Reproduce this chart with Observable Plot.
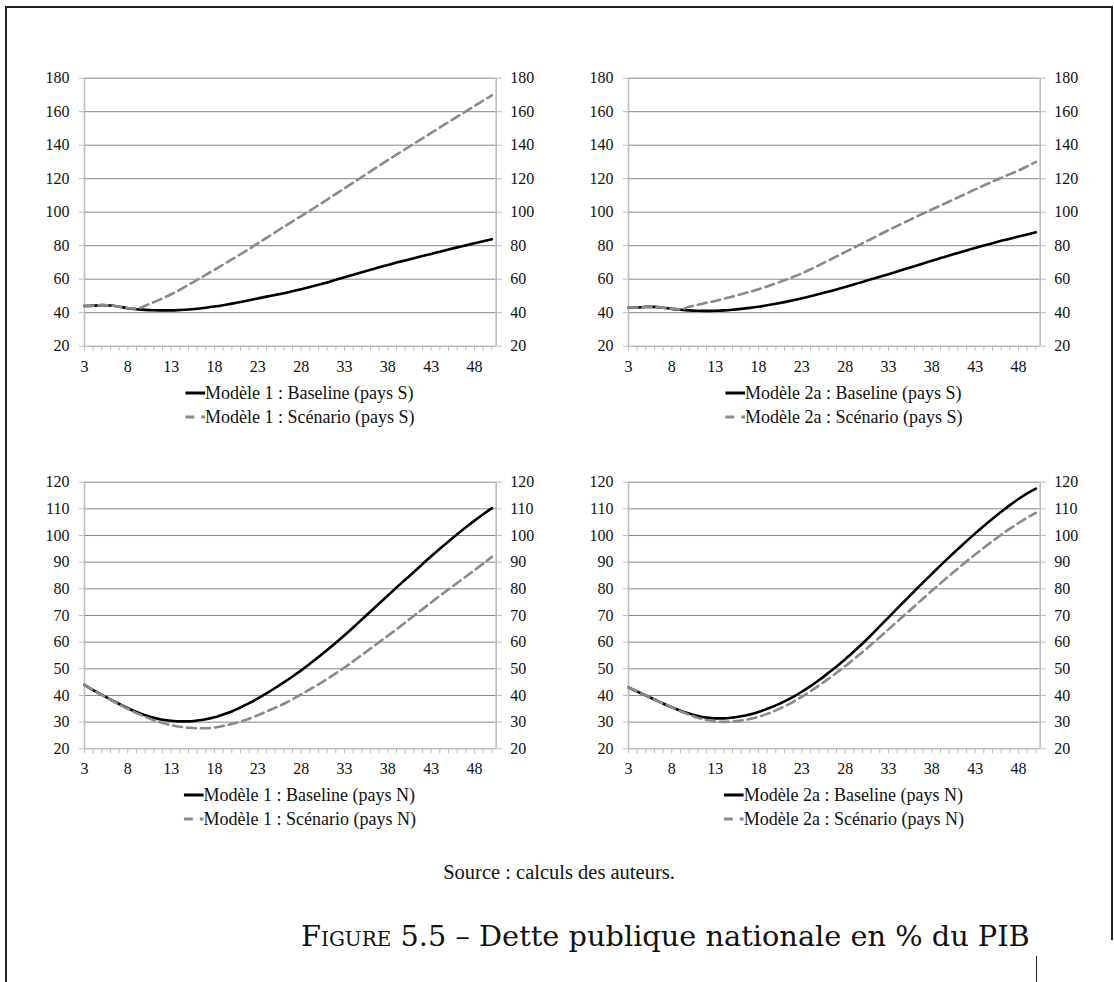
<!DOCTYPE html>
<html>
<head>
<meta charset="utf-8">
<script src="https://cdn.jsdelivr.net/npm/d3@7"></script>
<script src="https://cdn.jsdelivr.net/npm/@observablehq/plot@0.6"></script>
<style>
  body { margin: 0; background: #fff; }
  #page { position: relative; width: 1114px; height: 982px; background: #fff; overflow: hidden; font-family: "Liberation Serif", "Times New Roman", serif; color: #111; }
  .abs { position: absolute; }
  .legend { position: absolute; font-size: 18px; line-height: 24px; white-space: nowrap; transform: translateX(-50%); }
  .legend .row { display: flex; align-items: center; height: 24px; }
  .legend svg { display: block; }
</style>
</head>
<body>
<div id="page"></div>
<script>
// Periods (x categories)
const periods = [3,4,5,6,7,8,9,10,11,12,13,14,15,16,17,18,19,20,21,22,23,24,25,26,27,28,29,30,31,32,33,34,35,36,37,38,39,40,41,42,43,44,45,46,47,48,49,50];
const xTickLabels = [3,8,13,18,23,28,33,38,43,48];
const yTicksS = [20,40,60,80,100,120,140,160,180];
const yTicksN = [20,30,40,50,60,70,80,90,100,110,120];

// Modèle 1, pays S
const m1S_base = [44.0,44.2,44.5,44.3,43.6,42.7,42.1,41.7,41.5,41.4,41.4,41.6,41.9,42.4,43.0,43.7,44.5,45.4,46.4,47.4,48.5,49.6,50.6,51.6,52.8,54.0,55.3,56.7,58.1,59.6,61.1,62.6,64.1,65.6,67.1,68.5,69.9,71.2,72.5,73.8,75.1,76.4,77.7,79.0,80.2,81.4,82.6,83.8];
const m1S_scen = [44.0,44.2,44.5,44.3,43.6,42.7,42.4,44.2,46.3,48.6,51.0,53.7,56.6,59.6,62.6,65.6,68.7,71.8,74.9,78.1,81.4,84.7,88.0,91.3,94.5,97.7,100.9,104.2,107.5,110.9,114.3,117.6,121.0,124.4,127.8,131.1,134.4,137.6,140.9,144.1,147.3,150.6,153.8,157.0,160.2,163.4,166.6,169.8];
// Modèle 2a, pays S
const m2aS_base = [43.0,43.1,43.5,43.5,43.0,42.3,41.8,41.4,41.2,41.1,41.2,41.4,41.8,42.3,42.9,43.6,44.4,45.3,46.3,47.4,48.6,49.8,51.1,52.5,53.9,55.4,56.9,58.4,59.9,61.5,63.0,64.6,66.2,67.8,69.4,71.0,72.6,74.2,75.7,77.2,78.7,80.1,81.5,82.9,84.2,85.5,86.7,88.0];
const m2aS_scen = [43.0,43.1,43.5,43.5,43.0,42.3,42.0,43.5,44.8,45.9,47.0,48.3,49.6,51.0,52.5,54.0,55.7,57.5,59.4,61.4,63.5,65.9,68.4,71.0,73.6,76.2,78.8,81.4,84.0,86.7,89.3,91.8,94.3,96.8,99.2,101.6,104.0,106.4,108.8,111.2,113.6,116.0,118.3,120.5,122.7,124.9,127.4,130.0];
// Modèle 1, pays N
const m1N_base = [44.0,42.0,40.2,38.5,36.8,35.2,33.8,32.6,31.6,30.9,30.5,30.3,30.3,30.6,31.1,31.8,32.9,34.0,35.5,37.1,38.9,40.8,42.8,44.9,47.1,49.4,51.9,54.4,57.1,59.8,62.6,65.5,68.5,71.5,74.5,77.5,80.5,83.4,86.3,89.3,92.2,95.0,97.8,100.5,103.1,105.6,108.0,110.3];
const m1N_scen = [44.0,42.0,40.2,38.5,36.7,35.0,33.4,32.0,30.7,29.7,28.9,28.3,27.9,27.7,27.7,28.0,28.6,29.3,30.2,31.3,32.6,34.0,35.4,36.9,38.6,40.4,42.3,44.2,46.2,48.3,50.5,52.8,55.2,57.6,60.0,62.4,64.8,67.4,69.9,72.4,74.9,77.4,79.8,82.2,84.6,87.0,89.5,92.0];
// Modèle 2a, pays N
const m2aN_base = [43.0,41.5,40.0,38.5,37.0,35.6,34.3,33.2,32.3,31.7,31.4,31.4,31.7,32.2,32.9,33.8,35.0,36.3,37.8,39.5,41.4,43.5,45.8,48.3,50.9,53.6,56.5,59.5,62.7,66.0,69.3,72.6,75.9,79.2,82.4,85.6,88.8,91.9,94.9,97.9,100.8,103.6,106.3,108.9,111.4,113.7,115.8,117.6];
const m2aN_scen = [43.0,41.5,40.0,38.5,37.0,35.6,34.1,32.8,31.6,30.8,30.3,30.1,30.2,30.6,31.2,32.0,33.1,34.4,35.9,37.6,39.5,41.6,43.8,46.1,48.5,51.0,53.6,56.3,59.1,61.9,64.8,67.7,70.6,73.5,76.4,79.3,82.1,84.9,87.6,90.3,92.9,95.4,97.9,100.3,102.6,104.7,106.7,108.5];

const W = 556, H = 320, ML = 84, MR = 60.3;
const panels = [
  {base: m1S_base, scen: m1S_scen, yTicks: yTicksS, left: 0, top: 60, mt: 17.7, mb: 34.3, legTop: 381,
   names: ["Modèle 1 : Baseline (pays S)", "Modèle 1 : Scénario (pays S)"]},
  {base: m2aS_base, scen: m2aS_scen, yTicks: yTicksS, left: 544, top: 60, mt: 17.7, mb: 34.3, legTop: 381,
   names: ["Modèle 2a : Baseline (pays S)", "Modèle 2a : Scénario (pays S)"]},
  {base: m1N_base, scen: m1N_scen, yTicks: yTicksN, left: 0, top: 460, mt: 21.7, mb: 31.7, legTop: 783,
   names: ["Modèle 1 : Baseline (pays N)", "Modèle 1 : Scénario (pays N)"]},
  {base: m2aN_base, scen: m2aN_scen, yTicks: yTicksN, left: 544, top: 460, mt: 21.7, mb: 31.7, legTop: 783,
   names: ["Modèle 2a : Baseline (pays N)", "Modèle 2a : Scénario (pays N)"]}
];

const page = document.getElementById("page");

function addBar(x, y, w, h) {
  const d = document.createElement("div");
  d.className = "abs";
  Object.assign(d.style, {left: x + "px", top: y + "px", width: w + "px", height: h + "px", background: "#222"});
  page.appendChild(d);
}
addBar(5, 6, 1.6, 976);      // left border
addBar(5, 6, 1108, 1.6);     // top border
addBar(1111.4, 6, 1.6, 934); // right border
addBar(1035.5, 956, 1.4, 26); // small bar at bottom right

const AXIS = "#bdbdbd", GRID = "#878787";

for (const p of panels) {
  const yMin = p.yTicks[0], yMax = p.yTicks[p.yTicks.length - 1];
  const rows = periods.map((x, i) => ({x, base: p.base[i], scen: p.scen[i]}));
  const chart = Plot.plot({
    width: W, height: H,
    marginLeft: ML, marginRight: MR, marginTop: p.mt, marginBottom: p.mb,
    style: {fontFamily: "'Liberation Serif', 'Times New Roman', serif", fontSize: "16px", color: "#111", background: "transparent", overflow: "visible"},
    x: {domain: [3, 50.5]},
    y: {domain: [yMin, yMax]},
    marks: [
      Plot.gridY(p.yTicks.filter(d => d !== yMin), {stroke: GRID, strokeOpacity: 1, strokeWidth: 1}),
      Plot.ruleY([yMin], {stroke: AXIS, strokeWidth: 1.6}),
      Plot.ruleX([3, 50.5], {stroke: AXIS, strokeWidth: 1.6}),
      Plot.axisY({anchor: "left", ticks: p.yTicks, tickSize: 5, tickPadding: 10, stroke: AXIS, fill: "#111", label: null}),
      Plot.axisY({anchor: "right", ticks: p.yTicks, tickSize: 5, tickPadding: 9, stroke: AXIS, fill: "#111", label: null}),
      Plot.axisX({anchor: "bottom", ticks: periods, tickSize: 5, tickFormat: () => "", stroke: AXIS, label: null}),
      Plot.axisX({anchor: "bottom", ticks: xTickLabels, tickSize: 0, tickPadding: 14, fill: "#111", label: null}),
      Plot.line(rows, {x: "x", y: "base", stroke: "#000", strokeWidth: 2.6, curve: "monotone-x"}),
      Plot.line(rows, {x: "x", y: "scen", stroke: "#8a8a8a", strokeWidth: 2.6, strokeDasharray: "9,5", curve: "monotone-x"})
    ]
  });
  chart.style.position = "absolute";
  chart.style.left = p.left + "px";
  chart.style.top = p.top + "px";
  page.appendChild(chart);

  const leg = document.createElement("div");
  leg.className = "legend";
  leg.style.left = (p.left + (ML + (W - MR)) / 2 + 10) + "px";
  leg.style.top = p.legTop + "px";
  const swatch = (stroke, dash) =>
    `<svg width="20" height="10"><line x1="0" x2="20" y1="5" y2="5" stroke="${stroke}" stroke-width="3" ${dash ? `stroke-dasharray="${dash}"` : ""}/></svg>`;
  leg.innerHTML =
    `<div class="row">${swatch("#000", null)}<span>${p.names[0]}</span></div>` +
    `<div class="row">${swatch("#8a8a8a", "9,7")}<span>${p.names[1]}</span></div>`;
  page.appendChild(leg);
}

const src = document.createElement("div");
src.className = "abs";
Object.assign(src.style, {left: "0px", width: "1118px", top: "859px", textAlign: "center", fontSize: "20.5px", lineHeight: "26px"});
src.textContent = "Source : calculs des auteurs.";
page.appendChild(src);

const cap = document.createElement("div");
cap.className = "abs";
Object.assign(cap.style, {left: "301px", top: "918px", fontFamily: "'DejaVu Serif', serif", fontSize: "28.8px", lineHeight: "36px", whiteSpace: "nowrap"});
cap.innerHTML = `<span style="font-variant: small-caps">Figure</span> 5.5 – Dette publique nationale en % du PIB`;
page.appendChild(cap);
</script>
</body>
</html>
